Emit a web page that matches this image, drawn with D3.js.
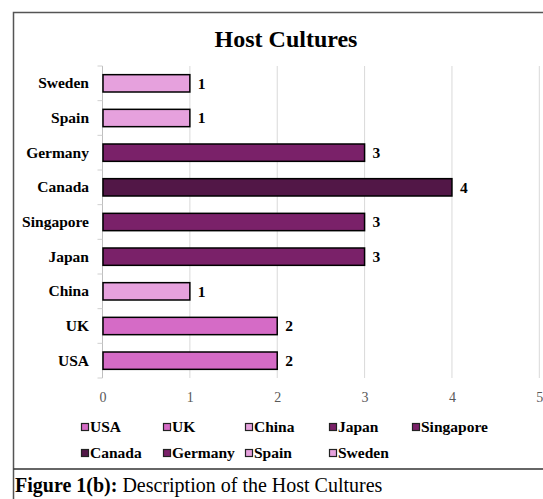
<!DOCTYPE html>
<html>
<head>
<meta charset="utf-8">
<script src="https://cdn.jsdelivr.net/npm/d3@7"></script>
<style>
  html, body { margin: 0; padding: 0; background: #fff; }
  svg { display: block; }
  text { font-family: "Liberation Serif", "Times New Roman", serif; }
</style>
</head>
<body>
<svg id="chart" width="543" height="499"></svg>
<script>
// Host cultures, listed bottom-to-top as they appear on the axis
const countries = ["USA", "UK", "China", "Japan", "Singapore", "Canada", "Germany", "Spain", "Sweden"];
const counts    = [2, 2, 1, 3, 3, 4, 3, 1, 1];
const colors    = ["#D56BC6", "#D56BC6", "#E6A1DD", "#7A2169", "#7A2169", "#521747", "#7A2169", "#E6A1DD", "#E6A1DD"];
const xTicks    = [0, 1, 2, 3, 4, 5];
const titleText = "Host Cultures";
const captionBold = "Figure 1(b):";
const captionText = " Description of the Host Cultures";

const data = countries.map((c, i) => ({ country: c, value: counts[i], color: colors[i] }));

const svg = d3.select("#chart");

// Frame around the figure and the divider above the caption
svg.append("path")
  .attr("d", "M13.5,499 V12.5 H543")
  .attr("fill", "none").attr("stroke", "#555").attr("stroke-width", 1.5);
svg.append("line")
  .attr("x1", 13.5).attr("x2", 543).attr("y1", 469).attr("y2", 469)
  .attr("stroke", "#333").attr("stroke-width", 1.5);

// Title
svg.append("text")
  .attr("x", 286).attr("y", 47)
  .attr("text-anchor", "middle")
  .attr("font-size", 24).attr("font-weight", "bold").attr("fill", "#000")
  .text(titleText);

// Scales
const x = d3.scaleLinear().domain([0, 5]).range([102.5, 539.3]);
const y = d3.scaleBand()
  .domain(countries.slice().reverse())
  .range([66, 378])
  .paddingInner(0.5).paddingOuter(0.25);

// Vertical gridlines
svg.append("g").selectAll("line")
  .data(xTicks.slice(1))
  .join("line")
  .attr("x1", d => x(d)).attr("x2", d => x(d))
  .attr("y1", 66).attr("y2", 378)
  .attr("stroke", "#d9d9d9").attr("stroke-width", 1);

// Value axis labels (no line)
const xAxis = svg.append("g")
  .attr("transform", "translate(0,378)")
  .call(d3.axisBottom(x).tickValues(xTicks).tickSize(0).tickPadding(14).tickFormat(d3.format("d")));
xAxis.select(".domain").remove();
xAxis.selectAll("text")
  .attr("font-family", "Liberation Serif, serif")
  .attr("font-size", 14).attr("fill", "#595959");

// Category axis: line with ticks at band boundaries
const step = y.step();
const boundaries = d3.range(countries.length + 1).map(i => 66 + i * step);
svg.append("line")
  .attr("x1", 102.5).attr("x2", 102.5).attr("y1", 66).attr("y2", 378)
  .attr("stroke", "#bfbfbf").attr("stroke-width", 1);
svg.append("g").selectAll("line")
  .data(boundaries)
  .join("line")
  .attr("x1", 97.5).attr("x2", 102.5)
  .attr("y1", d => d).attr("y2", d => d)
  .attr("stroke", "#d0d0d0").attr("stroke-width", 1);

const yAxis = svg.append("g")
  .attr("transform", "translate(89,0)")
  .call(d3.axisLeft(y).tickSize(0).tickPadding(0));
yAxis.select(".domain").remove();
yAxis.selectAll("text")
  .attr("font-family", "Liberation Serif, serif")
  .attr("font-size", 15.5).attr("font-weight", "bold").attr("fill", "#000");

// Bars
svg.append("g").selectAll("rect")
  .data(data)
  .join("rect")
  .attr("x", x(0) + 0.5)
  .attr("y", d => y(d.country))
  .attr("width", d => x(d.value) - x(0) - 0.5)
  .attr("height", y.bandwidth())
  .attr("fill", d => d.color)
  .attr("stroke", "#000").attr("stroke-width", 1.5);

// Value labels
svg.append("g").selectAll("text")
  .data(data)
  .join("text")
  .attr("x", d => x(d.value) + 8)
  .attr("y", d => y(d.country) + y.bandwidth() / 2)
  .attr("dy", "0.35em")
  .attr("font-size", 15.5).attr("font-weight", "bold").attr("fill", "#000")
  .text(d => d.value);

// Legend
const legendCols = [85, 167, 249, 333, 416];
const legendRows = [427, 453];
const legend = svg.append("g").selectAll("g")
  .data(data)
  .join("g")
  .attr("transform", (d, i) => `translate(${legendCols[i % 5]},${legendRows[Math.floor(i / 5)]})`);
legend.append("rect")
  .attr("x", -3.5).attr("y", -3.5).attr("width", 7).attr("height", 7)
  .attr("fill", d => d.color).attr("stroke", "#222").attr("stroke-width", 1.2);
legend.append("text")
  .attr("x", 5).attr("dy", "0.35em")
  .attr("font-size", 15.5).attr("font-weight", "bold").attr("fill", "#000")
  .text(d => d.country);

// Caption
const cap = svg.append("text")
  .attr("x", 15).attr("y", 492)
  .attr("font-size", 20).attr("fill", "#000");
cap.append("tspan").attr("font-weight", "bold").text(captionBold);
cap.append("tspan").attr("font-weight", "normal").text(captionText);
</script>
</body>
</html>
